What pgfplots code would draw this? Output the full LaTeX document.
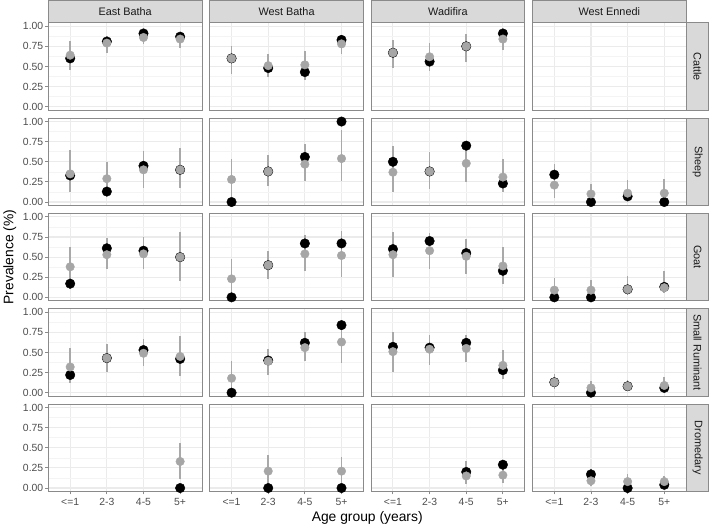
\documentclass[border=0pt]{standalone}
\usepackage{fontspec}
\setmainfont{Liberation Sans}
\usepackage{pgfplots}
\usepackage{pgfplotstable}
\pgfplotsset{compat=1.18}
\usepgfplotslibrary{groupplots}

\definecolor{gpt}{HTML}{A6A6A6}
\definecolor{gbar}{HTML}{A9A9A9}
\definecolor{frame}{HTML}{8A8A8A}
\definecolor{stripfill}{HTML}{D9D9D9}
\definecolor{gridmaj}{HTML}{EBEBEB}
\definecolor{gridmin}{HTML}{F4F4F4}
\definecolor{ticktxt}{HTML}{4D4D4D}

% x: 1 = <=1, 2 = 2-3, 3 = 4-5, 4 = 5+ ; obs = observed, est with lo/hi = estimate and interval
\pgfplotstableread{
x obs est lo hi
1 0.60 0.64 0.45 0.81
2 0.81 0.79 0.67 0.88
3 0.91 0.86 0.78 0.93
4 0.87 0.84 0.73 0.92
}\CattleEB
\pgfplotstableread{
x obs est lo hi
1 0.60 0.60 0.41 0.76
2 0.48 0.51 0.37 0.65
3 0.43 0.52 0.33 0.69
4 0.83 0.78 0.66 0.88
}\CattleWB
\pgfplotstableread{
x obs est lo hi
1 0.67 0.67 0.48 0.83
2 0.56 0.62 0.44 0.79
3 0.75 0.75 0.56 0.90
4 0.91 0.84 0.70 0.94
}\CattleWF

\pgfplotstableread{
x obs est lo hi
1 0.33 0.35 0.12 0.65
2 0.13 0.29 0.10 0.50
3 0.45 0.40 0.18 0.63
4 0.40 0.40 0.17 0.67
}\SheepEB
\pgfplotstableread{
x obs est lo hi
1 0.00 0.28 0.06 0.53
2 0.38 0.38 0.20 0.59
3 0.56 0.47 0.26 0.72
4 1.00 0.54 0.26 0.89
}\SheepWB
\pgfplotstableread{
x obs est lo hi
1 0.50 0.37 0.12 0.70
2 0.38 0.38 0.16 0.62
3 0.70 0.48 0.25 0.72
4 0.23 0.31 0.12 0.54
}\SheepWF
\pgfplotstableread{
x obs est lo hi
1 0.34 0.21 0.05 0.47
2 0.00 0.10 0.01 0.23
3 0.07 0.11 0.01 0.27
4 0.00 0.11 0.01 0.28
}\SheepWE

\pgfplotstableread{
x obs est lo hi
1 0.17 0.38 0.10 0.63
2 0.61 0.53 0.35 0.74
3 0.58 0.54 0.35 0.75
4 0.50 0.50 0.20 0.81
}\GoatEB
\pgfplotstableread{
x obs est lo hi
1 0.00 0.23 0.05 0.48
2 0.40 0.40 0.23 0.58
3 0.67 0.54 0.33 0.77
4 0.67 0.52 0.25 0.83
}\GoatWB
\pgfplotstableread{
x obs est lo hi
1 0.60 0.53 0.25 0.81
2 0.70 0.58 0.35 0.80
3 0.55 0.51 0.29 0.72
4 0.33 0.39 0.17 0.63
}\GoatWF
\pgfplotstableread{
x obs est lo hi
1 0.00 0.09 0.01 0.24
2 0.00 0.09 0.01 0.22
3 0.10 0.10 0.03 0.26
4 0.13 0.12 0.05 0.33
}\GoatWE

\pgfplotstableread{
x obs est lo hi
1 0.22 0.32 0.12 0.55
2 0.43 0.43 0.26 0.60
3 0.53 0.49 0.33 0.67
4 0.42 0.45 0.21 0.70
}\SmallEB
\pgfplotstableread{
x obs est lo hi
1 0.00 0.18 0.04 0.39
2 0.40 0.39 0.22 0.54
3 0.62 0.56 0.39 0.75
4 0.84 0.63 0.37 0.86
}\SmallWB
\pgfplotstableread{
x obs est lo hi
1 0.57 0.51 0.26 0.76
2 0.56 0.54 0.35 0.72
3 0.62 0.55 0.38 0.72
4 0.28 0.34 0.17 0.53
}\SmallWF
\pgfplotstableread{
x obs est lo hi
1 0.13 0.13 0.05 0.23
2 0.00 0.06 0.01 0.15
3 0.08 0.08 0.02 0.16
4 0.06 0.09 0.02 0.20
}\SmallWE

\pgfplotstableread{
x obs est lo hi
4 0.00 0.33 0.11 0.56
}\DromEB
\pgfplotstableread{
x obs est lo hi
2 0.00 0.21 0.04 0.41
4 0.00 0.21 0.04 0.39
}\DromWB
\pgfplotstableread{
x obs est lo hi
3 0.20 0.15 0.05 0.33
4 0.29 0.16 0.06 0.30
}\DromWF
\pgfplotstableread{
x obs est lo hi
2 0.17 0.09 0.02 0.24
3 0.00 0.08 0.01 0.18
4 0.04 0.08 0.01 0.15
}\DromWE

\tikzset{strip/.style={fill=stripfill, draw=frame, line width=0.9bp, inner sep=0pt,
  font=\fontsize{11}{13}\selectfont, text=black!90}}

\newcommand{\panel}[1]{%
  \addplot[only marks, mark=*, mark size=4.8bp, black] table[x=x,y=obs]{#1};
  \addplot[only marks, mark=*, mark size=4.3bp, color=gpt,
    error bars/.cd, y dir=both, y explicit, error mark=none,
    error bar style={line width=1.6bp, gbar}]
    table[x=x, y=est, y error plus expr=\thisrow{hi}-\thisrow{est},
      y error minus expr=\thisrow{est}-\thisrow{lo}]{#1};
}
\newcommand{\stripR}[1]{%
  \node[strip, rotate=-90, anchor=south, minimum width=88bp, minimum height=22bp]
    at (rel axis cs:1,0.5) {#1};
}

\begin{document}
\begin{tikzpicture}
\begin{groupplot}[
  group style={group size=4 by 5, horizontal sep=7.5bp, vertical sep=8bp,
    xticklabels at=edge bottom, yticklabels at=edge left},
  width=155bp, height=88bp, scale only axis, clip=false,
  xmin=0.4, xmax=4.6, ymin=-0.043, ymax=1.043,
  xtick={1,2,3,4}, xticklabels={{<=1},{2-3},{4-5},{5+}},
  ytick={0,0.25,0.5,0.75,1}, minor ytick={0.125,0.375,0.625,0.875},
  yticklabel style={xshift=1.5bp, /pgf/number format/.cd, fixed, fixed zerofill, precision=2, assume math mode=true},
  xmajorgrids, ymajorgrids, yminorgrids,
  major grid style={gridmaj, line width=1.1bp},
  minor grid style={gridmin, line width=0.55bp},
  axis line style={frame, line width=0.9bp},
  tick style={frame, line width=0.9bp}, tick align=outside,
  major tick length=3bp, minor tick length=0pt,
  xtick pos=left, ytick pos=left,
  xmajorticks=false, ymajorticks=false,
  ticklabel style={font=\fontsize{10.5}{12}\selectfont, text=ticktxt},
  label style={font=\fontsize{14}{16}\selectfont},
  every axis title shift=0pt,
  title style={strip, at={(0.5,1)}, anchor=south, minimum width=155bp, minimum height=22bp},
]
% Cattle
\nextgroupplot[title={East Batha}, ymajorticks=true]
\panel{\CattleEB}
\nextgroupplot[title={West Batha}]
\panel{\CattleWB}
\nextgroupplot[title={Wadifira}]
\panel{\CattleWF}
\nextgroupplot[title={West Ennedi}]
\stripR{Cattle}
% Sheep
\nextgroupplot[ymajorticks=true]
\panel{\SheepEB}
\nextgroupplot
\panel{\SheepWB}
\nextgroupplot
\panel{\SheepWF}
\nextgroupplot
\panel{\SheepWE}
\stripR{Sheep}
% Goat
\nextgroupplot[ymajorticks=true, ylabel={Prevalence (\%)}]
\panel{\GoatEB}
\nextgroupplot
\panel{\GoatWB}
\nextgroupplot
\panel{\GoatWF}
\nextgroupplot
\panel{\GoatWE}
\stripR{Goat}
% Small ruminant
\nextgroupplot[ymajorticks=true]
\panel{\SmallEB}
\nextgroupplot
\panel{\SmallWB}
\nextgroupplot
\panel{\SmallWF}
\nextgroupplot
\panel{\SmallWE}
\stripR{Small Ruminant}
% Dromedary
\nextgroupplot[ymajorticks=true, xmajorticks=true]
\panel{\DromEB}
\nextgroupplot[xmajorticks=true]
\panel{\DromWB}
\nextgroupplot[xmajorticks=true]
\panel{\DromWF}
\nextgroupplot[xmajorticks=true]
\panel{\DromWE}
\stripR{Dromedary}
\end{groupplot}
\path (group c2r5.south east) -- (group c3r5.south west)
  node[midway, anchor=base, yshift=-30bp, font=\fontsize{14}{16}\selectfont] {Age group (years)};
\end{tikzpicture}
\end{document}
